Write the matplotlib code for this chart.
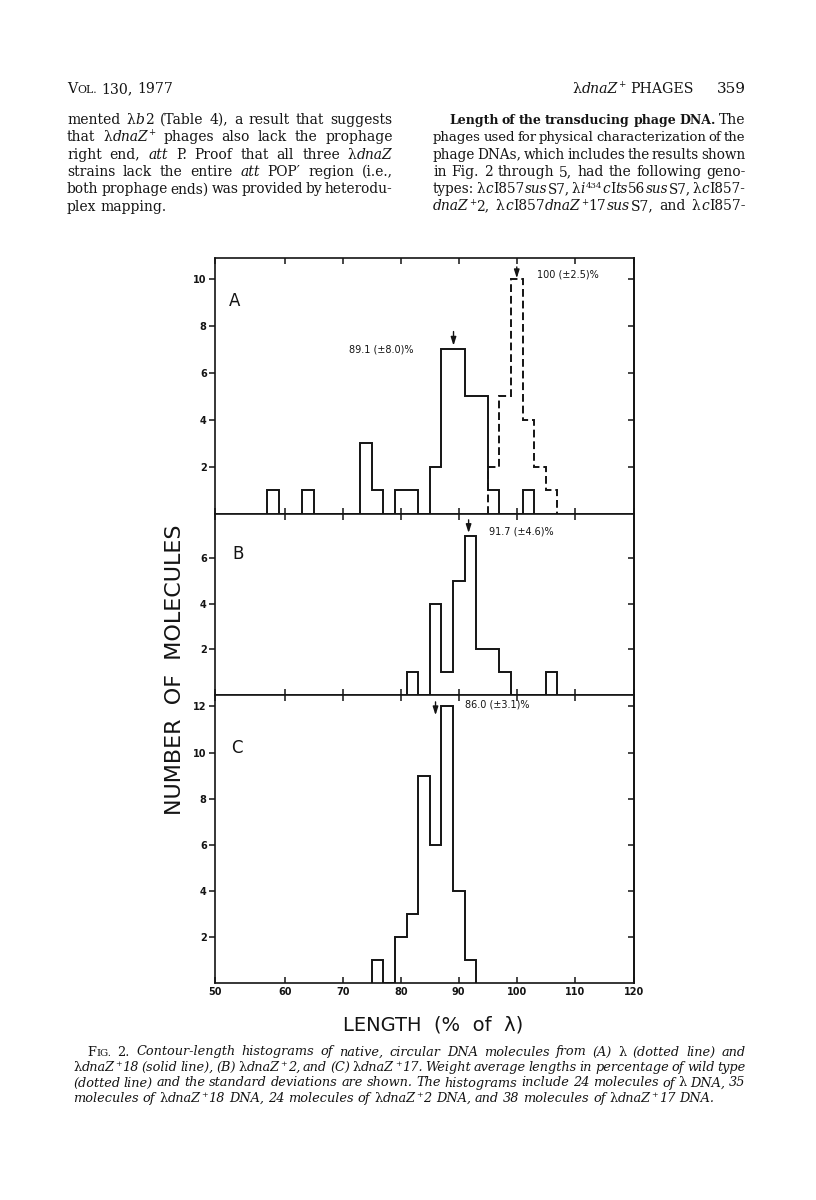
import re
import numpy as np
import matplotlib
matplotlib.use('Agg')
import matplotlib.pyplot as plt

# histogram data: left edge of each 2 %-wide bin and its count
BIN_WIDTH = 2
a_lambda_bins = [95, 97, 99, 101, 103, 105]
a_lambda_counts = [2, 5, 10, 4, 2, 1]
a_z18_bins = [57, 63, 73, 75, 79, 81, 85, 87, 89, 91, 93, 95, 101]
a_z18_counts = [1, 1, 3, 1, 1, 1, 2, 7, 7, 5, 5, 1, 1]
b_z2_bins = [81, 85, 87, 89, 91, 93, 95, 97, 105]
b_z2_counts = [1, 4, 1, 5, 7, 2, 2, 1, 1]
c_z17_bins = [75, 79, 81, 83, 85, 87, 89, 91]
c_z17_counts = [1, 2, 3, 9, 6, 12, 4, 1]

# weight average lengths (arrows) and their labels
a_lambda_mean, a_lambda_label = 100.0, '100 (±2.5)%'
a_z18_mean, a_z18_label = 89.1, '89.1 (±8.0)%'
b_z2_mean, b_z2_label = 91.7, '91.7 (±4.6)%'
c_z17_mean, c_z17_label = 86.0, '86.0 (±3.1)%'

x_tick_values = [60, 70, 80, 90, 100, 110]
x_tick_labels = ['50', '60', '70', '80', '90', '100', '110', '120']
a_yticks = [2, 4, 6, 8, 10]
b_yticks = [2, 4, 6]
c_yticks = [2, 4, 6, 8, 10, 12]

left_col = [
    "mented λ*b*2 (Table 4), a result that suggests",
    "that λ*dnaZ*^+^ phages also lack the prophage",
    "right end, *att* P. Proof that all three λ*dnaZ*",
    "strains lack the entire *att* POP′ region (i.e.,",
    "both prophage ends) was provided by heterodu-",
    "plex mapping.",
]
right_col = [
    "**Length of the transducing phage DNA.** The",
    "phages used for physical characterization of the",
    "phage DNAs, which includes the results shown",
    "in Fig. 2 through 5, had the following geno-",
    "types: λ*c*I857*sus*S7, λ*i*^434^*c*I*ts*56*sus*S7, λ*c*I857-",
    "*dnaZ*^+^2, λ*c*I857*dnaZ*^+^17*sus*S7, and λ*c*I857-",
]
# caption is italic by default, *...* marks upright pieces
caption = [
    "*F*~IG.~ *2.* Contour-length histograms of native, circular DNA molecules from (A) *λ* (dotted line) and",
    "*λ*dnaZ^+^18 (solid line), (B) *λ*dnaZ^+^2, and (C) *λ*dnaZ^+^17. Weight average lengths in percentage of wild type",
    "(dotted line) and the standard deviations are shown. The histograms include 24 molecules of *λ* DNA, 35",
    "molecules of *λ*dnaZ^+^18 DNA, 24 molecules of *λ*dnaZ^+^2 DNA, and 38 molecules of *λ*dnaZ^+^17 DNA.",
]

W, H = 816, 1200
INK = '#141414'
SERIF = 'DejaVu Serif'
SANS = 'DejaVu Sans'

fig = plt.figure(figsize=(W / 100, H / 100), dpi=100)
fig.patch.set_facecolor('white')
renderer = fig.canvas.get_renderer()


def fx(x):
    return x / W


def fy(y):
    return 1 - y / H


def parse(line, base='r'):
    parts = re.split(r'(\*\*.+?\*\*|\*.+?\*|\^.+?\^|~.+?~)', line)
    runs = []
    for p in parts:
        if not p:
            continue
        if p.startswith('**'):
            runs.append((p[2:-2], 'b'))
        elif p.startswith('*'):
            runs.append((p[1:-1], 'r' if base == 'i' else 'i'))
        elif p.startswith('^'):
            runs.append((p[1:-1], 'sup'))
        elif p.startswith('~'):
            runs.append((p[1:-1], 'sc'))
        else:
            runs.append((p, base))
    words = [[]]
    for text, st in runs:
        for k, chunk in enumerate(text.split(' ')):
            if k > 0:
                words.append([])
            if chunk:
                words[-1].append((chunk, st))
    return [w for w in words if w]


def build_words(words, size):
    placed = []
    total = 0
    for word in words:
        pieces = []
        for chunk, st in word:
            kw = dict(family=SERIF, fontsize=size, color=INK, va='baseline', ha='left')
            dy = 0
            if st == 'i':
                kw['style'] = 'italic'
            elif st == 'b':
                kw['weight'] = 'bold'
                kw['fontsize'] = size * 0.9
            elif st == 'sup':
                kw['fontsize'] = size * 0.62
                dy = 0.42 * size * 100 / 72
            elif st == 'sc':
                kw['fontsize'] = size * 0.78
                chunk = chunk.upper()
            t = fig.text(0, 0, chunk, **kw)
            wd = t.get_window_extent(renderer).width + 0.4
            pieces.append((t, wd, dy))
            total += wd
        placed.append(pieces)
    return placed, total


def text_line(line, x0, x1, y, size, base='r', justify=True):
    # y is the baseline in pixels from the top
    words = parse(line, base)
    min_space = 0.14 * size * 100 / 72
    placed, total = build_words(words, size)
    need = total + min_space * (len(placed) - 1)
    if justify and need > x1 - x0:
        # too long for the measure: shrink this line a little
        for pieces in placed:
            for t, _, _ in pieces:
                t.remove()
        size = size * (x1 - x0) / need
        placed, total = build_words(words, size)
    gap = 0.28 * size * 100 / 72
    if justify and len(placed) > 1:
        gap = (x1 - x0 - total) / (len(placed) - 1)
    x = x0
    for pieces in placed:
        for t, wd, dy in pieces:
            t.set_position((fx(x), fy(y - dy)))
            x += wd
        x += gap


def stairs_data(bins, counts):
    edges = np.arange(bins[0], bins[-1] + BIN_WIDTH + 1, BIN_WIDTH)
    values = np.zeros(len(edges) - 1)
    for b, c in zip(bins, counts):
        values[(b - bins[0]) // BIN_WIDTH] = c
    return values, edges


XLIM = (48.0, 120.2)
AX_LEFT, AX_RIGHT = 215, 634


def make_panel(top, bottom, ymax, yticks, letter, letter_xy, show_x=False):
    ax = fig.add_axes([fx(AX_LEFT), fy(bottom), (AX_RIGHT - AX_LEFT) / W, (bottom - top) / H])
    ax.set_xlim(*XLIM)
    ax.set_ylim(0, ymax)
    ax.set_xticks([XLIM[0]] + x_tick_values + [XLIM[1]])
    ax.set_xticklabels(x_tick_labels)
    ax.set_yticks(yticks)
    ax.set_yticklabels([str(v) for v in yticks])
    for s in ax.spines.values():
        s.set_linewidth(1.2)
        s.set_color(INK)
    ax.tick_params(axis='x', which='both', top=True, bottom=True, direction='in',
                   length=4, width=1.1, color=INK, labelbottom=show_x, pad=3)
    ax.tick_params(axis='y', left=True, right=False, direction='out', length=4,
                   width=1.1, color=INK, pad=2)
    for lab in ax.get_xticklabels() + ax.get_yticklabels():
        lab.set_fontfamily(SANS)
        lab.set_fontsize(7)
        lab.set_fontweight('bold')
        lab.set_color(INK)
    sec = ax.secondary_yaxis('right')
    sec.set_yticks(yticks)
    sec.tick_params(direction='in', length=4, width=1.1, color=INK, labelright=False)
    sec.spines['right'].set_linewidth(1.2)
    ax.text(letter_xy[0], letter_xy[1], letter, family=SANS, fontsize=12,
            color=INK, ha='center', va='center')
    return ax


def mean_arrow(ax, x, tail, tip):
    ax.annotate('', xy=(x, tip), xytext=(x, tail),
                arrowprops=dict(arrowstyle='-|>,head_width=0.16,head_length=0.5',
                                lw=1.0, color=INK, shrinkA=0, shrinkB=0))


hist_kw = dict(baseline=0, fill=False, color=INK, lw=1.4)
label_kw = dict(family=SANS, fontsize=7, color=INK, va='center')

# panel A
ax_a = make_panel(258, 513.7, 10.88, a_yticks, 'A', (51.4, 9.05))
vals, edges = stairs_data(a_z18_bins, a_z18_counts)
ax_a.stairs(vals, edges, **hist_kw)
vals, edges = stairs_data(a_lambda_bins, a_lambda_counts)
ax_a.stairs(vals, edges, linestyle=(0, (4, 2)), **hist_kw)
mean_arrow(ax_a, a_z18_mean, 7.75, 7.15)
mean_arrow(ax_a, a_lambda_mean, 10.5, 10.02)
ax_a.text(82.2, 7.0, a_z18_label, ha='right', **label_kw)
ax_a.text(103.5, 10.16, a_lambda_label, ha='left', **label_kw)

# panel B
ax_b = make_panel(513.7, 694.5, 7.97, b_yticks, 'B', (51.9, 6.2))
vals, edges = stairs_data(b_z2_bins, b_z2_counts)
ax_b.stairs(vals, edges, **hist_kw)
mean_arrow(ax_b, b_z2_mean, 7.7, 7.12)
ax_b.text(95.2, 7.2, b_z2_label, ha='left', **label_kw)

# panel C
ax_c = make_panel(694.5, 982.7, 12.52, c_yticks, 'C', (51.7, 10.2), show_x=True)
vals, edges = stairs_data(c_z17_bins, c_z17_counts)
ax_c.stairs(vals, edges, **hist_kw)
mean_arrow(ax_c, c_z17_mean, 12.2, 11.62)
ax_c.text(91.0, 12.07, c_z17_label, ha='left', **label_kw)

fig.text(fx(175), fy(670), 'NUMBER  OF  MOLECULES', rotation=90, family=SANS,
         fontsize=16, color=INK, ha='center', va='center')
fig.text(fx(433), fy(1025), 'LENGTH  (%  of  λ)', family=SANS, fontsize=14,
         color=INK, ha='center', va='center')

# running header and body text
text_line("V~ol.~ 130, 1977", 67, 162, 93, 10.2, justify=False)
text_line("λ*dnaZ*^+^ PHAGES", 572, 688, 93, 10.2, justify=False)
fig.text(fx(746), fy(93), '359', family=SERIF, fontsize=11, color=INK,
         ha='right', va='baseline')

body_y = [124, 141.3, 158.6, 175.9, 193.2, 210.5]
for i, line in enumerate(left_col):
    text_line(line, 67, 393, body_y[i], 10.0, justify=(i < len(left_col) - 1))
for i, line in enumerate(right_col):
    text_line(line, 449 if i == 0 else 433, 746, body_y[i], 10.0)

cap_y = [1055.5, 1071, 1086.5, 1102]
for i, line in enumerate(caption):
    x0 = 87 if i == 0 else 73
    text_line(line, x0, 746, cap_y[i], 9.3, base='i', justify=(i < len(caption) - 1))

fig.savefig('out.png', dpi=100, facecolor='white')
